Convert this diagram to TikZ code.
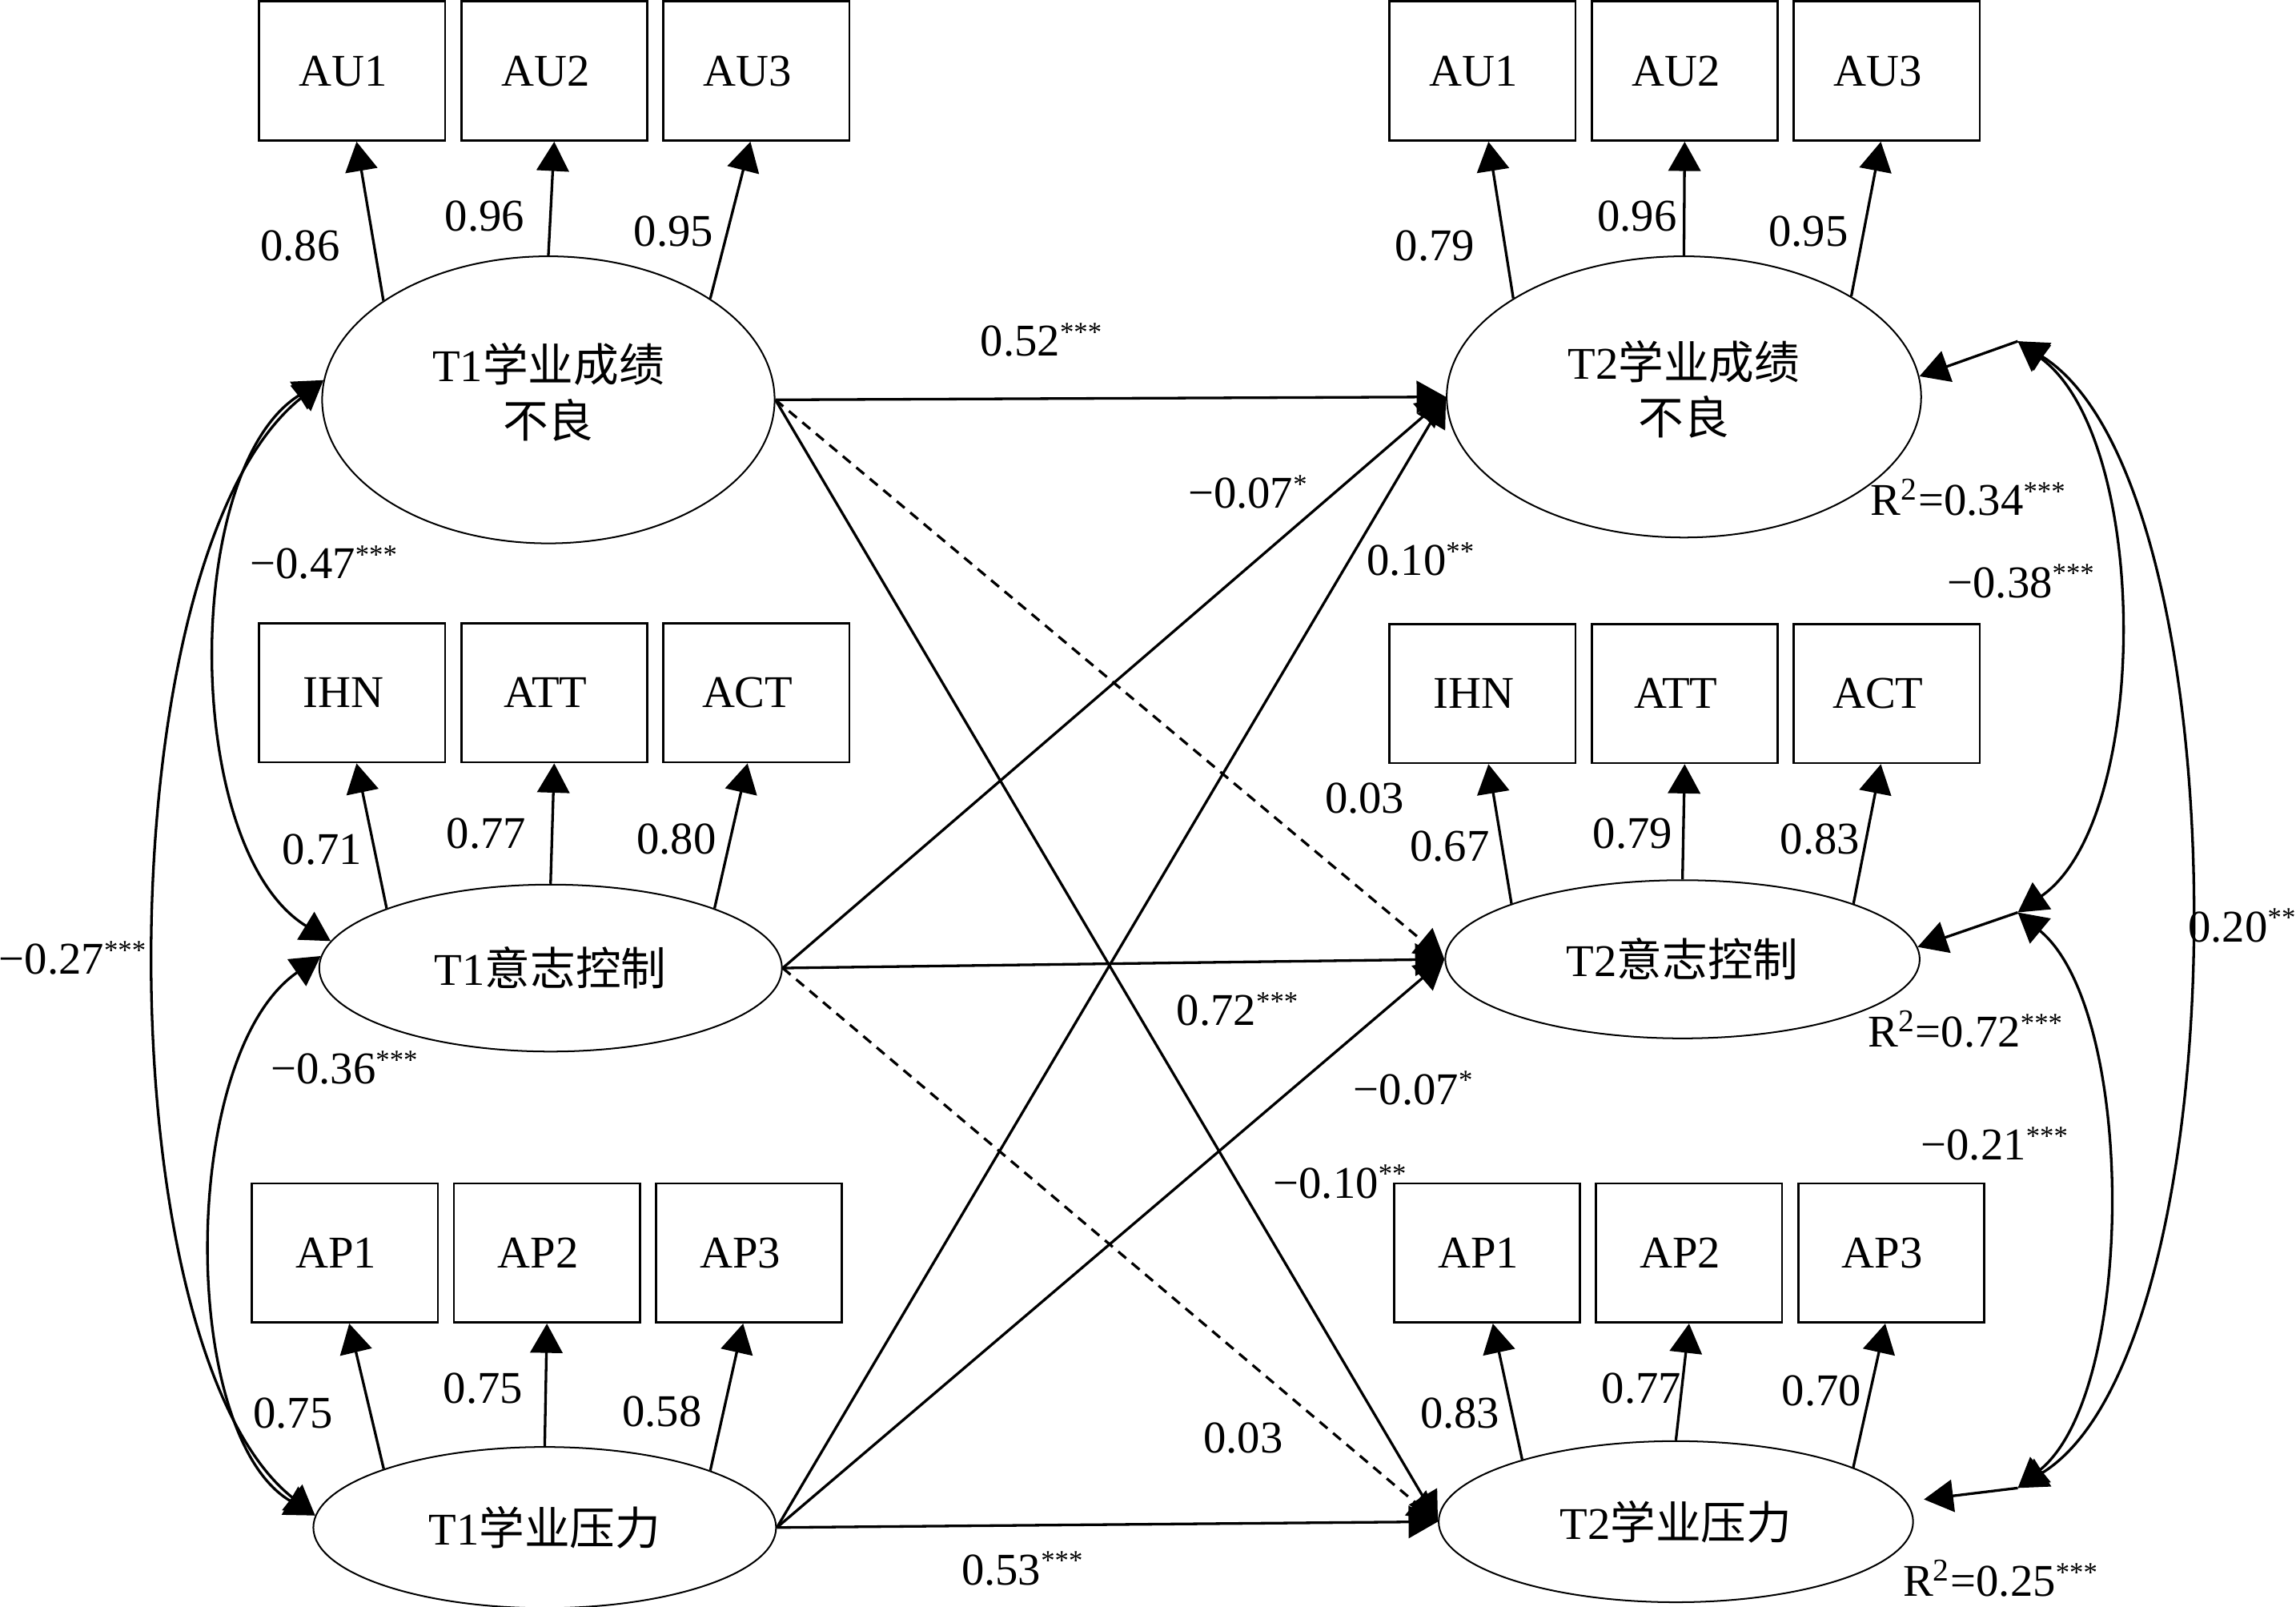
\documentclass[tikz,border=0pt]{standalone}
\usepackage{fontspec}
\setmainfont{Liberation Serif}
\newfontfamily\cjk{Noto Sans CJK SC}
\usetikzlibrary{arrows.meta, shapes.geometric, positioning}
\newcommand{\sigst}[1]{\raisebox{5pt}{\fontsize{9.5pt}{9.5pt}\selectfont #1}}

\begin{document}
\begin{tikzpicture}[>={Triangle[length=10pt,width=11pt]},x=0.5pt,y=-0.5pt,node distance=69pt,
  every node/.style={font=\fontsize{15.5pt}{19pt}\selectfont},
  obs/.style={draw, line width=0.75pt, minimum width=63.5pt, minimum height=47.5pt, inner sep=0pt,
    execute at begin node={\hspace*{-6pt}}},
  lat/.style={draw, ellipse, line width=0.55pt, inner sep=0pt, align=center},
  link/.style={->, line width=0.9pt},
  cov/.style={<->, line width=0.9pt},
  lbl/.style={inner sep=0pt, anchor=base}]
\useasboundingbox (0,0) rectangle (1568,1097);

% define the indicators of time 1
  \node[obs] (AUa) at (240.5,48.5) {AU1};
  \node[obs] (AUb) [right of=AUa] {AU2};
  \node[obs] (AUc) [right of=AUb] {AU3};
  \node[obs] (IHNa) at (240.5,473) {IHN};
  \node[obs] (ATTa) [right of=IHNa] {ATT};
  \node[obs] (ACTa) [right of=ATTa] {ACT};
  \node[obs] (APa) at (235.5,855.5) {AP1};
  \node[obs] (APb) [right of=APa] {AP2};
  \node[obs] (APc) [right of=APb] {AP3};

% define the indicators of time 2
  \node[obs] (AUd) at (1012.5,48.5) {AU1};
  \node[obs] (AUe) [right of=AUd] {AU2};
  \node[obs] (AUf) [right of=AUe] {AU3};
  \node[obs] (IHNb) at (1012.5,473.5) {IHN};
  \node[obs] (ATTb) [right of=IHNb] {ATT};
  \node[obs] (ACTb) [right of=ATTb] {ACT};
  \node[obs] (APd) at (1015.5,855.5) {AP1};
  \node[obs] (APe) [right of=APd] {AP2};
  \node[obs] (APf) [right of=APe] {AP3};

% define the latent variables
  \node[lat, minimum width=154.5pt, minimum height=98pt, text depth=6.5pt] (AUone) at (374.5,273) {T1{\cjk 学业成绩}\\{\cjk 不良}};
  \node[lat, minimum width=158pt, minimum height=57pt] (ICone) at (376,661) {T1{\cjk 意志控制}};
  \node[lat, minimum width=158pt, minimum height=55pt] (APone) at (372,1043) {T1{\cjk 学业压力}};
  \node[lat, minimum width=162pt, minimum height=96pt, text depth=6.5pt] (AUtwo) at (1150,271) {T2{\cjk 学业成绩}\\{\cjk 不良}};
  \node[lat, minimum width=162pt, minimum height=54pt] (ICtwo) at (1149,655) {T2{\cjk 意志控制}};
  \node[lat, minimum width=162pt, minimum height=55pt] (APtwo) at (1144.5,1039) {T2{\cjk 学业压力}};

% define the loadings
  \path[link] (AUone.149) edge ([xshift=1.5pt]AUa.south)
              (AUone.90) edge (AUb.south)
              (AUone.32) edge ([xshift=-2pt]AUc.south)
              (ICone.160) edge ([xshift=1.5pt]IHNa.south)
              (ICone.20) edge ([xshift=-3pt]ACTa.south)
              (ICone.90) edge (ATTa.south)
              (APone.160) edge ([xshift=1.5pt]APa.south)
              (APone.90) edge (APb.south)
              (APone.19) edge ([xshift=-2pt]APc.south)
              (AUtwo.150) edge ([xshift=2pt]AUd.south)
              (AUtwo.90) edge (AUe.south)
              (AUtwo.31) edge ([xshift=-2pt]AUf.south)
              (ICtwo.162) edge ([xshift=2pt]IHNb.south)
              (ICtwo.90) edge (ATTb.south)
              (ICtwo.18) edge ([xshift=-2pt]ACTb.south)
              (APtwo.158) edge ([xshift=2pt]APd.south)
              (APtwo.90) edge (APe.south)
              (APtwo.17) edge ([xshift=-2pt]APf.south);

  \node[lbl] (w1) at (205,178) {0.86};
  \node[lbl] (w2) at (331,158) {0.96};
  \node[lbl] (w3) at (460,168) {0.95};
  \node[lbl] (w4) at (220,590) {0.71};
  \node[lbl] (w5) at (332,579) {0.77};
  \node[lbl] (w6) at (462,583) {0.80};
  \node[lbl] (w7) at (200,975) {0.75};
  \node[lbl] (w8) at (330,958) {0.75};
  \node[lbl] (w9) at (452,974) {0.58};
  \node[lbl] (w10) at (980,178) {0.79};
  \node[lbl] (w11) at (1118,158) {0.96};
  \node[lbl] (w12) at (1235,168) {0.95};
  \node[lbl] (w13) at (990,588) {0.67};
  \node[lbl] (w14) at (1115,579) {0.79};
  \node[lbl] (w15) at (1243,583) {0.83};
  \node[lbl] (w16) at (997,975) {0.83};
  \node[lbl] (w17) at (1121,958) {0.77};
  \node[lbl] (w18) at (1244,960) {0.70};

% define the cross-lagged paths
  \path[link] (AUone.east) edge (AUtwo.west)
                           edge (APtwo.west)
                           edge [dashed, dash pattern=on 3.5pt off 2.5pt] (ICtwo.west)
              (ICone.east) edge (AUtwo.west)
                           edge (ICtwo.west)
                           edge [dashed, dash pattern=on 3.5pt off 2.5pt] (APtwo.west)
              (APone.east) edge (AUtwo.west)
                           edge (ICtwo.west)
                           edge (APtwo.west);

  \node[lbl] (b1) at (711,243) {0.52\sigst{***}};
  \node[lbl] (b2) at (852,347) {−0.07\sigst{*}};
  \node[lbl] (b3) at (970,393) {0.10\sigst{**}};
  \node[lbl] (b4) at (932,555) {0.03};
  \node[lbl] (b5) at (845,700) {0.72\sigst{***}};
  \node[lbl] (b6) at (965,754) {−0.07\sigst{*}};
  \node[lbl] (b7) at (915,818) {−0.10\sigst{**}};
  \node[lbl] (b8) at (849,992) {0.03};
  \node[lbl] (b9) at (698,1082) {0.53\sigst{***}};

% define the correlations at time 1
  \draw[cov] (AUone.175) .. controls (124,320) and (124,580) .. (ICone.173);
  \draw[cov] (ICone.177) .. controls (122,720) and (122,980) .. (APone.177);
  \draw[cov] (AUone.175) .. controls (70,380) and (70,920) .. (APone.177);

  \node[lbl] (c1) at (221,395) {−0.47\sigst{***}};
  \node[lbl] (c2) at (235,740) {−0.36\sigst{***}};
  \node[lbl, anchor=base east] (c3) at (100,665) {−0.27\sigst{***}};

% define the residual correlations at time 2
  \coordinate (eAU) at (1378,233);
  \coordinate (eIC) at (1378,623);
  \coordinate (eAP) at (1378,1016);
  \path[link] (eAU) edge (AUtwo.5)
              (eIC) edge (ICtwo.3)
              (eAP) edge [shorten >=6pt] (APtwo.5);
  \draw[cov] (eAU) .. controls (1469,300) and (1469,560) .. (eIC);
  \draw[cov] (eIC) .. controls (1459,690) and (1459,950) .. (eAP);
  \draw[cov] (eAU) .. controls (1533,330) and (1533,920) .. (eAP);

  \node[lbl] (r1) at (1344,352) {R\textsuperscript{2}=0.34\sigst{***}};
  \node[lbl] (r2) at (1342,715) {R\textsuperscript{2}=0.72\sigst{***}};
  \node[lbl] (r3) at (1366,1090) {R\textsuperscript{2}=0.25\sigst{***}};
  \node[lbl] (c4) at (1380,408) {−0.38\sigst{***}};
  \node[lbl, anchor=base west] (c5) at (1494,643) {0.20\sigst{**}};
  \node[lbl] (c6) at (1362,792) {−0.21\sigst{***}};
\end{tikzpicture}
\end{document}
